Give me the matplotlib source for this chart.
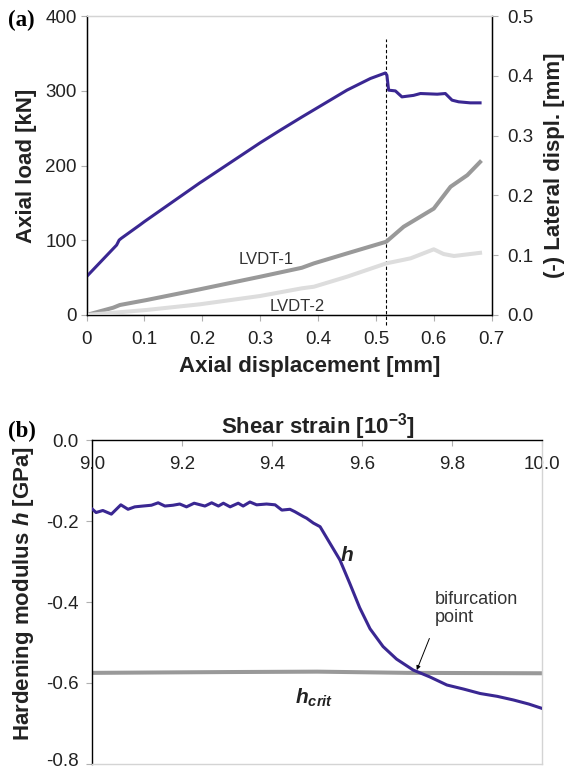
import matplotlib
matplotlib.use("Agg")
import matplotlib.pyplot as plt
from matplotlib.transforms import ScaledTranslation

plt.rcParams["font.family"] = ["Liberation Sans", "DejaVu Sans"]
plt.rcParams["mathtext.fontset"] = "custom"
plt.rcParams["mathtext.rm"] = "Liberation Sans"
plt.rcParams["mathtext.bf"] = "Liberation Sans:bold"
plt.rcParams["mathtext.it"] = "Liberation Sans:italic"
plt.rcParams["mathtext.bfit"] = "Liberation Sans:italic:bold"

# ---- panel (a): axial load and lateral displacement vs axial displacement
load_x = [0.0, 0.052, 0.0564, 0.06, 0.092, 0.1, 0.196, 0.2, 0.3, 0.335, 0.372, 0.45,
          0.4905, 0.5164, 0.519, 0.522, 0.5337, 0.545, 0.565, 0.577, 0.606, 0.62,
          0.6316, 0.643, 0.663, 0.68]
load_kn = [51.3, 93.6, 100.3, 102.6, 120.4, 125, 177, 179, 230.5, 247.5, 265, 301,
           316.6, 324, 321, 301, 300, 292, 294, 296.5, 295.6, 296.5,
           287.6, 285.4, 284, 284]

lvdt1_x = [0.0, 0.0461, 0.0576, 0.1037, 0.196, 0.3, 0.372, 0.393, 0.45, 0.518, 0.548,
           0.6, 0.629, 0.658, 0.68]
lvdt1_mm = [0.0, 0.0122, 0.0167, 0.025, 0.043, 0.064, 0.079, 0.0864, 0.103, 0.1226,
            0.1477, 0.178, 0.2146, 0.234, 0.256]

lvdt2_x = [0.0, 0.104, 0.196, 0.3, 0.372, 0.393, 0.45, 0.518, 0.56, 0.6, 0.617,
           0.635, 0.68]
lvdt2_mm = [0.0, 0.0084, 0.0179, 0.0318, 0.0446, 0.0473, 0.064, 0.0864, 0.0948,
            0.1099, 0.102, 0.0987, 0.104]

peak_disp = 0.518

# ---- panel (b): hardening modulus vs shear strain
strain = [9.0, 9.008, 9.023, 9.042, 9.063, 9.079, 9.094, 9.112, 9.131, 9.146, 9.161,
          9.179, 9.194, 9.209, 9.226, 9.25, 9.265, 9.28, 9.291, 9.306, 9.324, 9.335,
          9.35, 9.365, 9.387, 9.406, 9.421, 9.439, 9.45, 9.469, 9.476, 9.491, 9.506,
          9.528, 9.55, 9.572, 9.594, 9.617, 9.646, 9.676, 9.713, 9.75, 9.788, 9.825,
          9.862, 9.9, 9.936, 9.97, 10.0]
h_gpa = [-0.171, -0.179, -0.174, -0.183, -0.160, -0.171, -0.165, -0.163, -0.161,
         -0.155, -0.163, -0.161, -0.158, -0.165, -0.156, -0.163, -0.155, -0.163,
         -0.156, -0.165, -0.156, -0.163, -0.153, -0.160, -0.158, -0.160, -0.173,
         -0.171, -0.177, -0.189, -0.193, -0.205, -0.214, -0.255, -0.296, -0.354,
         -0.414, -0.466, -0.51, -0.541, -0.568, -0.585, -0.605, -0.615, -0.626,
         -0.633, -0.642, -0.652, -0.663]
hcrit_x = [9.0, 9.3, 9.5, 9.7, 10.0]
hcrit_gpa = [-0.575, -0.573, -0.572, -0.575, -0.576]

BLUE = "#3a2792"
DARK = "#222222"
LIGHT = "#d4d4d4"
TICK = "#b0b0b0"
TICK_FS = 13.5
LABEL_FS = 16

fig = plt.figure(figsize=(5.73, 7.72), dpi=100)

# ================= panel (a)
ax = fig.add_axes([0.151, 0.592, 0.707, 0.387])
ax.plot(load_x, load_kn, color=BLUE, lw=2.2, zorder=4)
ax.plot([peak_disp, peak_disp], [-13, 370], color="black", lw=0.8, ls=(0, (3, 2)),
        clip_on=False, zorder=3)
ax.set_xlim(0, 0.7)
ax.set_ylim(0, 400)
ax.set_xticks([0, 0.1, 0.2, 0.3, 0.4, 0.5, 0.6, 0.7])
ax.set_xticklabels(["0", "0.1", "0.2", "0.3", "0.4", "0.5", "0.6", "0.7"])
ax.set_yticks([0, 100, 200, 300, 400])
ax.tick_params(axis="y", length=4.5, width=0.8, color=TICK, labelsize=TICK_FS,
               labelcolor=DARK, pad=2.5)
ax.tick_params(axis="x", length=4.5, width=0.8, color=TICK, labelsize=TICK_FS,
               labelcolor=DARK, pad=7)
ax.set_xlabel("Axial displacement [mm]", fontsize=LABEL_FS, fontweight="bold",
              color=DARK, labelpad=6)
ax.xaxis.label.set_x(0.551)
ax.set_ylabel("Axial load [kN]", fontsize=LABEL_FS, fontweight="bold", color=DARK,
              labelpad=6)
for s in ("left", "bottom", "right"):
    ax.spines[s].set_color("black")
    ax.spines[s].set_linewidth(1.0)
ax.spines["top"].set_color(LIGHT)
ax.spines["top"].set_linewidth(1.0)

ax2 = ax.twinx()
ax2.plot(lvdt1_x, lvdt1_mm, color="#999999", lw=2.9, zorder=2)
ax2.plot(lvdt2_x, lvdt2_mm, color="#dddddd", lw=2.9, zorder=2)
ax2.set_ylim(0, 0.5)
ax2.set_yticks([0.0, 0.1, 0.2, 0.3, 0.4, 0.5])
ax2.set_yticklabels(["0.0", "0.1", "0.2", "0.3", "0.4", "0.5"])
ax2.tick_params(axis="y", length=4.5, width=0.8, color=TICK, labelsize=TICK_FS,
                labelcolor=DARK, pad=7)
ax2.set_ylabel("(-) Lateral displ. [mm]", fontsize=LABEL_FS, fontweight="bold",
               color=DARK, labelpad=7)
ax2.spines["right"].set_color("black")
ax2.spines["top"].set_color(LIGHT)
ax2.text(0.31, 0.0936, "LVDT-1", fontsize=12, color="#333333",
         ha="center", va="center")
ax2.text(0.364, 0.015, "LVDT-2", fontsize=12, color="#333333",
         ha="center", va="center")

fig.text(0.037, 0.973, "(a)", fontsize=16.5, fontweight="bold",
         family=["Liberation Serif", "DejaVu Serif"], ha="center", va="center")

# ================= panel (b)
bx = fig.add_axes([0.1614, 0.0104, 0.785, 0.4196])
bx.plot(hcrit_x, hcrit_gpa, color="#999999", lw=2.9, zorder=2)
bx.plot(strain, h_gpa, color=BLUE, lw=2.2, zorder=3)
bx.set_xlim(9.0, 10.0)
bx.set_ylim(-0.8, 0.0)
bx.set_xticks([9.0, 9.2, 9.4, 9.6, 9.8, 10.0])
bx.set_xticklabels(["9.0", "9.2", "9.4", "9.6", "9.8", "10.0"])
bx.set_yticks([0.0, -0.2, -0.4, -0.6, -0.8])
bx.set_yticklabels(["0.0", "-0.2", "-0.4", "-0.6", "-0.8"])
bx.tick_params(axis="x", top=True, labeltop=True, bottom=False, labelbottom=False,
               direction="in", length=4, width=0.8, color=TICK, labelsize=TICK_FS,
               labelcolor=DARK, pad=-24)
bx.tick_params(axis="y", length=4, width=0.8, color=TICK, labelsize=TICK_FS,
               labelcolor=DARK, pad=6)
bx.xaxis.set_label_position("top")
bx.set_xlabel(r"Shear strain [10$^{\mathbf{-3}}$]", fontsize=LABEL_FS,
              fontweight="bold", color=DARK, labelpad=5)
bx.set_ylabel(r"Hardening modulus $\mathbfit{h}$ [GPa]", fontsize=LABEL_FS,
              fontweight="bold", color=DARK)
bx.yaxis.set_label_coords(-0.126, 0.525)
# nudge the lowest tick label up a little so it stays inside the figure
low = bx.yaxis.get_major_ticks()[-1].label1
low.set_transform(low.get_transform() + ScaledTranslation(0, 3 / 72, fig.dpi_scale_trans))
for s in ("left", "top"):
    bx.spines[s].set_color("black")
    bx.spines[s].set_linewidth(1.0)
for s in ("right", "bottom"):
    bx.spines[s].set_color(LIGHT)
    bx.spines[s].set_linewidth(1.0)

bx.text(9.565, -0.284, r"$\mathbfit{h}$", fontsize=15, color=DARK,
        ha="center", va="center")
bx.text(9.493, -0.637, r"$\mathbfit{h}_{\mathbfit{crit}}$", fontsize=15,
        color=DARK, ha="center", va="center")
bx.text(9.761, -0.372, "bifurcation\npoint", fontsize=13, color="#333333",
        ha="left", va="top", linespacing=1.1)
bx.annotate("", xy=(9.721, -0.568), xytext=(9.749, -0.49),
            arrowprops=dict(arrowstyle="-|>", color="black", lw=0.7,
                            mutation_scale=6, shrinkA=0, shrinkB=0))

fig.text(0.038, 0.4417, "(b)", fontsize=16.5, fontweight="bold",
         family=["Liberation Serif", "DejaVu Serif"], ha="center", va="center")

fig.savefig("out.png", dpi=100)
